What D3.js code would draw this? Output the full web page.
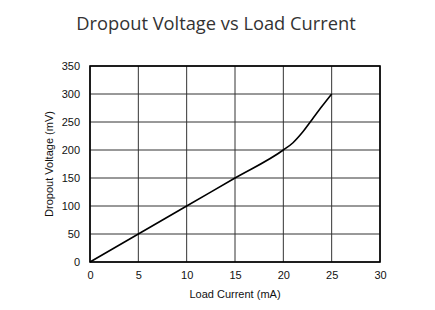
<!DOCTYPE html>
<html>
<head>
<meta charset="utf-8">
<script src="https://cdn.jsdelivr.net/npm/d3@7"></script>
<style>
  body { margin: 0; background: #fff; }
  svg { display: block; }
</style>
</head>
<body>
<div id="chart"></div>
<script>
// data
var loadCurrent = [0, 5, 10, 15, 20, 21, 22, 23, 24, 25];
var dropoutMv = [0, 50, 100, 150, 200, 213, 232, 255, 278, 300];
var xTicks = [0, 5, 10, 15, 20, 25, 30];
var yTicks = [0, 50, 100, 150, 200, 250, 300, 350];

var W = 435, H = 310;
var margin = { top: 66, right: 55, bottom: 48, left: 90 },
    width = W - margin.left - margin.right,
    height = H - margin.top - margin.bottom;

var root = d3.select("#chart")
    .append("svg")
    .attr("width", W)
    .attr("height", H);

// title
root.append("text")
    .attr("x", 216)
    .attr("y", 30)
    .attr("text-anchor", "middle")
    .style("font-family", "'Open Sans', sans-serif")
    .style("font-size", "18.3px")
    .style("fill", "#333")
    .text("Dropout Voltage vs Load Current");

var svg = root.append("g")
    .attr("transform", "translate(" + margin.left + "," + margin.top + ")");

var x = d3.scaleLinear().domain([0, 30]).range([0, width]);
var y = d3.scaleLinear().domain([0, 350]).range([height, 0]);

// grid
svg.append("g")
    .selectAll("line")
    .data(xTicks)
    .enter()
    .append("line")
    .attr("x1", function(d) { return x(d); })
    .attr("x2", function(d) { return x(d); })
    .attr("y1", 0)
    .attr("y2", height)
    .attr("stroke", "#333")
    .attr("stroke-width", 1);

svg.append("g")
    .selectAll("line")
    .data(yTicks)
    .enter()
    .append("line")
    .attr("x1", 0)
    .attr("x2", width)
    .attr("y1", function(d) { return y(d); })
    .attr("y2", function(d) { return y(d); })
    .attr("stroke", "#333")
    .attr("stroke-width", 1);

// frame
svg.append("rect")
    .attr("x", 0)
    .attr("y", 0)
    .attr("width", width)
    .attr("height", height)
    .attr("fill", "none")
    .attr("stroke", "#000")
    .attr("stroke-width", 1.6);

// axes (labels only)
var xAxis = svg.append("g")
    .attr("transform", "translate(0," + height + ")")
    .call(d3.axisBottom(x).tickValues(xTicks).tickSize(0).tickPadding(9));
var yAxis = svg.append("g")
    .call(d3.axisLeft(y).tickValues(yTicks).tickSize(0).tickPadding(10));

[xAxis, yAxis].forEach(function(a) {
    a.select(".domain").remove();
    a.selectAll("text")
        .style("font-family", "'Liberation Sans', Arial, sans-serif")
        .style("font-size", "11px")
        .style("fill", "#111");
});

// curve
var line = d3.line()
    .x(function(d, i) { return x(loadCurrent[i]); })
    .y(function(d) { return y(d); })
    .curve(d3.curveMonotoneX);

svg.append("path")
    .datum(dropoutMv)
    .attr("d", line)
    .attr("fill", "none")
    .attr("stroke", "#000")
    .attr("stroke-width", 1.6);

// axis titles
svg.append("text")
    .attr("x", width / 2)
    .attr("y", height + 36)
    .attr("text-anchor", "middle")
    .style("font-family", "'Liberation Sans', Arial, sans-serif")
    .style("font-size", "11px")
    .style("fill", "#111")
    .text("Load Current (mA)");

svg.append("text")
    .attr("transform", "translate(-37," + (height / 2) + ")rotate(-90)")
    .attr("text-anchor", "middle")
    .style("font-family", "'Liberation Sans', Arial, sans-serif")
    .style("font-size", "11px")
    .style("fill", "#111")
    .text("Dropout Voltage (mV)");
</script>
</body>
</html>
